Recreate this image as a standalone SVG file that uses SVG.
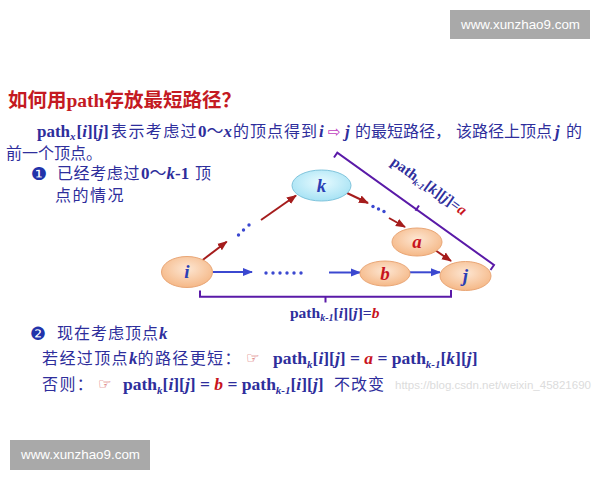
<svg xmlns="http://www.w3.org/2000/svg" width="600" height="480" viewBox="0 0 600 480">
<defs>
<radialGradient id="gOr" cx="50%" cy="40%" r="60%">
<stop offset="0" stop-color="#fde6d2"/><stop offset="1" stop-color="#f5b887"/>
</radialGradient>
<radialGradient id="gCy" cx="50%" cy="40%" r="60%">
<stop offset="0" stop-color="#e8fbff"/><stop offset="1" stop-color="#a6e2f4"/>
</radialGradient>
<marker id="aR" viewBox="0 0 10 10" refX="9" refY="5" markerWidth="5" markerHeight="5" orient="auto" markerUnits="strokeWidth"><path d="M0,1 L10,5 L0,9 z" fill="#a51c1c"/></marker>
<marker id="aB" viewBox="0 0 10 10" refX="9" refY="5" markerWidth="5" markerHeight="5" orient="auto" markerUnits="strokeWidth"><path d="M0,1 L10,5 L0,9 z" fill="#3b48d0"/></marker>
</defs>
<style>
.cj{font-family:"Noto Sans CJK SC",sans-serif;font-size:16px;fill:#2e2e9c;letter-spacing:1px}
.en{font-family:"Liberation Serif",serif;font-weight:bold;fill:#2e2e9c}
.it{font-style:italic}
.red{fill:#c8141e}
.sym{font-family:"DejaVu Sans",sans-serif}
.nlab{font-family:"Liberation Serif",serif;font-weight:bold;font-style:italic;font-size:19px;text-anchor:middle}
.ell{fill:url(#gOr);stroke:#e9a676;stroke-width:1}
.rar{stroke:#a51c1c;stroke-width:2;fill:none;marker-end:url(#aR)}
.bar{stroke:#3b48d0;stroke-width:2;fill:none;marker-end:url(#aB)}
.brk{stroke:#5a1aa8;stroke-width:2;fill:none}
.wm{fill:#a9a9a9}
.wmt{font-family:"Liberation Sans",sans-serif;font-size:13px;fill:#ffffff}
</style>
<rect width="600" height="480" fill="#ffffff"/>

<!-- watermarks -->
<rect class="wm" x="450" y="10" width="140" height="29"/>
<text class="wmt" x="461" y="29" textLength="119" lengthAdjust="spacingAndGlyphs">www.xunzhao9.com</text>
<rect class="wm" x="10" y="440" width="140" height="30"/>
<text class="wmt" x="21" y="459" textLength="119" lengthAdjust="spacingAndGlyphs">www.xunzhao9.com</text>

<!-- title -->
<text x="8" y="107" style="font-family:'Noto Sans CJK SC',sans-serif;font-size:19.5px;fill:#c41a22;font-weight:bold">如何用<tspan style="font-family:'Liberation Serif',serif">path</tspan>存放最短路径？</text>

<!-- line 2 -->
<text class="en" x="37" y="137" font-size="17">path<tspan class="it" font-size="11" dy="3">x</tspan><tspan dy="-3" dx="1">[</tspan><tspan class="it">i</tspan>][<tspan class="it">j</tspan>]</text>
<text class="cj" x="111" y="137" style="letter-spacing:1.4px">表示考虑过</text>
<text class="en" x="198" y="137" font-size="17">0<tspan style="font-family:'Noto Sans CJK SC',sans-serif;font-weight:normal">～</tspan><tspan class="it">x</tspan></text>
<text class="cj" x="233" y="137">的顶点得到</text>
<text class="en it" x="319" y="137" font-size="17">i</text>
<text class="sym" x="328" y="137" font-size="15" fill="#c040c0">⇨</text>
<text class="en it" x="345" y="137" font-size="17">j</text>
<text class="cj" x="355" y="137" style="letter-spacing:0">的最短路径，</text>
<text class="cj" x="456" y="137" style="letter-spacing:0">该路径上顶点</text>
<text class="en it" x="555" y="137" font-size="17">j</text>
<text class="cj" x="566" y="137">的</text>
<text class="cj" x="6" y="159" style="letter-spacing:0">前一个顶点。</text>

<!-- item 1 -->
<text class="sym" x="31" y="180" font-size="18" fill="#2233aa">❶</text>
<text class="cj" x="57" y="179" style="letter-spacing:0.6px">已经考虑过</text>
<text class="en" x="141" y="179" font-size="17">0<tspan style="font-family:'Noto Sans CJK SC',sans-serif;font-weight:normal">～</tspan><tspan class="it">k</tspan>-1</text>
<text class="cj" x="195" y="179">顶</text>
<text class="cj" x="55" y="201" style="letter-spacing:1.5px">点的情况</text>

<!-- item 2 -->
<text class="sym" x="30" y="340" font-size="18" fill="#2233aa">❷</text>
<text class="cj" x="57" y="339">现在考虑顶点<tspan class="en it" style="letter-spacing:0" font-size="17">k</tspan></text>
<text class="cj" x="42" y="364" style="letter-spacing:1.4px">若经过顶点<tspan class="en it" style="letter-spacing:0" font-size="17">k</tspan>的路径更短：</text>
<text class="sym" x="246" y="363" font-size="15" fill="#d04848">☞</text>
<text class="en" x="273" y="364" font-size="17.5">path<tspan class="it" font-size="11" dy="4">k</tspan><tspan dy="-4">[</tspan><tspan class="it">i</tspan>][<tspan class="it">j</tspan>] = <tspan class="it red">a</tspan> = path<tspan class="it" font-size="11" dy="4">k-1</tspan><tspan dy="-4">[</tspan><tspan class="it">k</tspan>][<tspan class="it">j</tspan>]</text>
<text class="cj" x="42" y="390" style="letter-spacing:1.4px">否则：</text>
<text class="sym" x="98" y="389" font-size="15" fill="#d04848">☞</text>
<text class="en" x="123" y="390" font-size="17.5">path<tspan class="it" font-size="11" dy="4">k</tspan><tspan dy="-4">[</tspan><tspan class="it">i</tspan>][<tspan class="it">j</tspan>] = <tspan class="it red">b</tspan> = path<tspan class="it" font-size="11" dy="4">k-1</tspan><tspan dy="-4">[</tspan><tspan class="it">i</tspan>][<tspan class="it">j</tspan>]</text>
<text class="cj" x="334" y="390">不改变</text>
<text x="395" y="389" font-family="Liberation Sans, sans-serif" font-size="11" fill="#dcdcdc" textLength="196" lengthAdjust="spacingAndGlyphs">https://blog.csdn.net/weixin_45821690</text>

<!-- connectors -->
<g id="connectors">
<line class="rar" x1="201.7" y1="260.7" x2="226.7" y2="241.7"/>
<circle cx="238.5" cy="235" r="1.7" fill="#3b48d0"/>
<circle cx="243.5" cy="230" r="1.7" fill="#3b48d0"/>
<circle cx="249" cy="225" r="1.7" fill="#3b48d0"/>
<line class="rar" x1="261" y1="220" x2="296" y2="195.5"/>
<line class="rar" x1="347" y1="193" x2="368" y2="203"/>
<circle cx="373" cy="206.5" r="1.7" fill="#3b48d0"/>
<circle cx="378.5" cy="209" r="1.7" fill="#3b48d0"/>
<circle cx="384" cy="211.5" r="1.7" fill="#3b48d0"/>
<line class="rar" x1="389" y1="218" x2="405" y2="227"/>
<line class="rar" x1="435" y1="250" x2="451" y2="261"/>
<line class="bar" x1="212.5" y1="272" x2="252" y2="272"/>
<g fill="#3b48d0">
<circle cx="266" cy="273" r="1.7"/><circle cx="273" cy="273" r="1.7"/><circle cx="280" cy="273" r="1.7"/>
<circle cx="287" cy="273" r="1.7"/><circle cx="294" cy="273" r="1.7"/><circle cx="301" cy="273" r="1.7"/>
</g>
<line class="bar" x1="329" y1="272.5" x2="360" y2="272.5"/>
<line class="bar" x1="410" y1="272.3" x2="440" y2="272.3"/>
<!-- brackets -->
<polyline class="brk" points="200,290.5 200,296.7 451,296.7 451,290"/>
<line class="brk" x1="325.5" y1="296.7" x2="325.5" y2="302.5"/>
<polyline class="brk" points="334,157.5 337.3,152.7 494,265 490.5,270"/>
<line class="brk" x1="415.5" y1="210.7" x2="419" y2="205.5"/>
</g>

<text class="en" x="290" y="318" font-size="15.5">path<tspan class="it" font-size="10" dy="3">k-1</tspan><tspan dy="-3">[</tspan><tspan class="it">i</tspan>][<tspan class="it">j</tspan>]=<tspan class="it red">b</tspan></text>
<text class="en" font-size="15" transform="translate(390,164) rotate(35.6)">path<tspan class="it" font-size="9" dy="3">k-1</tspan><tspan dy="-3">[</tspan><tspan class="it">k</tspan>][<tspan class="it">j</tspan>]=<tspan class="it red">a</tspan></text>

<g id="node-k"><ellipse cx="321.5" cy="185.5" rx="29.5" ry="15.5" fill="url(#gCy)" stroke="#80c4dc"/><text class="nlab" x="321.5" y="191.5" fill="#2b3fb5">k</text></g>
<g id="node-a"><ellipse class="ell" cx="417" cy="242" rx="25" ry="14"/><text class="nlab red" x="417" y="248">a</text></g>
<g id="node-i"><ellipse class="ell" cx="187" cy="272" rx="25.5" ry="15.5"/><text class="nlab" x="187" y="278" fill="#2b3fb5">i</text></g>
<g id="node-b"><ellipse class="ell" cx="385" cy="273.5" rx="25" ry="12.5"/><text class="nlab red" x="385" y="279.5">b</text></g>
<g id="node-j"><ellipse class="ell" cx="465.5" cy="276" rx="25.5" ry="14.5"/><text class="nlab" x="465.5" y="282" fill="#2b3fb5">j</text></g>
</svg>
